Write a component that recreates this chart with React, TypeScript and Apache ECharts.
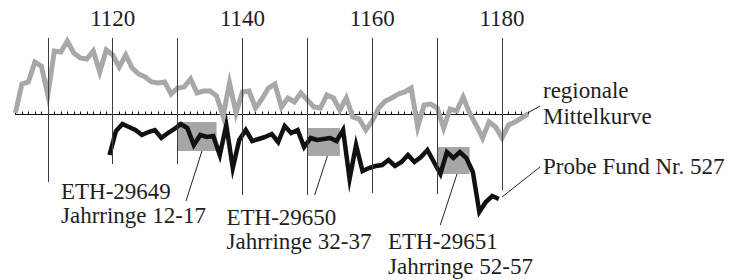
import React, { useEffect, useRef } from "react";
import * as echarts from "echarts";

// Regional mean curve (index, baseline = 0), one value per year from 1105
const meanStartYear = 1105;
const meanValues = [
  1, 30, 32, 52, 48, 19, 63, 62, 73, 61,
  56, 55, 63, 42, 64, 59, 47, 59, 46, 40,
  37, 32, 31, 32, 20, 26, 27, 35, 21, 23,
  23, 18, -2, 31, 1, 22, 23, 6, 15, 26,
  30, 7, 16, 12, 21, 14, 7, 6, 19, 16,
  4, 16, -3, -5, -16, -7, 6, 13, 16, 20,
  22, 26, -13, 9, 10, 6, -14, 5, 3, 17,
  1, -11, -24, -8, -13, -24, -11, -8, -4, 0,
];

// Sample curve "Probe Fund Nr. 527" (plotted below the mean curve), ring centres from 1119.5
const probeStartYear = 1119.5;
const probeValues = [
  -41, -17, -10, -13, -16, -21, -18, -16, -24, -19,
  -15, -10, -14, -31, -21, -23, -22, -41, -11, -54,
  -26, -16, -27, -25, -23, -20, -28, -12, -19, -16,
  -33, -24, -26, -25, -24, -27, -16, -65, -31, -57,
  -54, -52, -51, -46, -52, -48, -41, -48, -43, -36,
  -48, -60, -38, -44, -38, -44, -58, -98, -88, -82,
  -85,
];

// Radiocarbon samples (ring blocks)
const sampleNames = ["ETH-29649", "ETH-29650", "ETH-29651"];
const sampleRings = ["Jahrringe 12-17", "Jahrringe 32-37", "Jahrringe 52-57"];
const sampleFrom = [1130, 1150, 1170];
const sampleTo = [1136, 1155, 1175];
const sampleHigh = [-8, -14, -33];
const sampleLow = [-37, -42, -60];

// Decade guide lines
const decadeYears = [1110, 1120, 1130, 1140, 1150, 1160, 1170, 1180];
const decadeTop = 76;
const decadeBottom = [-68, -50, -50, -81, -81, -79, -80, -76];

const axisMin = 1105;
const axisMax = 1184;

const FONT = '"Liberation Serif", "Times New Roman", serif';
const TXT = "#1e1e1e";

export default function App() {
  const ref = useRef<HTMLDivElement>(null);

  useEffect(() => {
    if (!ref.current) return;
    const chart = echarts.init(ref.current, null, { renderer: "svg" });

    const meanData = meanValues.map((v, i) => [meanStartYear + i, v]);
    const probeData = probeValues.map((v, i) => [probeStartYear + i, v]);

    const text = (t: string, x: number, y: number) => ({
      type: "text",
      x,
      y,
      silent: true,
      style: {
        text: t,
        fontFamily: FONT,
        fontSize: 23,
        fill: TXT,
        textAlign: "left",
        textVerticalAlign: "middle",
        align: "left",
        verticalAlign: "middle",
      },
    });
    const leader = (x1: number, y1: number, x2: number, y2: number) => ({
      type: "line",
      silent: true,
      shape: { x1, y1, x2, y2 },
      style: { stroke: "#222", lineWidth: 1 },
    });

    chart.setOption({
      animation: false,
      backgroundColor: "#ffffff",
      grid: {
        left: 15.4,
        right: 206,
        top: 38,
        bottom: 0,
        containLabel: false,
        outerBoundsMode: "none",
      },
      xAxis: [
        {
          type: "value",
          min: axisMin,
          max: axisMax,
          interval: 1,
          position: "bottom",
          axisLine: { show: true, onZero: true, lineStyle: { color: "#111", width: 1.2 } },
          axisTick: { show: true, inside: true, length: 2.5, lineStyle: { color: "#111", width: 1 } },
          axisLabel: { show: false },
          splitLine: { show: false },
        },
        {
          type: "value",
          min: axisMin,
          max: axisMax,
          interval: 5,
          position: "top",
          axisLine: { show: false },
          axisTick: { show: false },
          splitLine: { show: false },
          axisLabel: {
            show: true,
            interval: 0,
            margin: 8,
            fontFamily: FONT,
            fontSize: 23,
            color: TXT,
            formatter: (v: number) => (v % 20 === 0 ? String(v) : ""),
          },
        },
      ],
      yAxis: {
        type: "value",
        min: -166,
        max: 76,
        show: false,
        splitLine: { show: false },
      },
      series: [
        {
          type: "line",
          name: "guides",
          xAxisIndex: 0,
          data: [],
          z: 1,
          silent: true,
          markLine: {
            silent: true,
            symbol: ["none", "none"],
            label: { show: false },
            lineStyle: { color: "#3c3c3c", width: 1, type: "solid" },
            data: decadeYears.map((yr, i) => [
              { coord: [yr, decadeTop] },
              { coord: [yr, decadeBottom[i]] },
            ]),
          },
          markArea: {
            silent: true,
            itemStyle: { color: "#a6a6a6" },
            label: { show: false },
            data: sampleFrom.map((f, i) => [
              { coord: [f, sampleHigh[i]] },
              { coord: [sampleTo[i], sampleLow[i]] },
            ]),
          },
        },
        {
          type: "line",
          name: "regionale Mittelkurve",
          xAxisIndex: 0,
          data: meanData,
          showSymbol: false,
          symbol: "none",
          z: 2,
          lineStyle: { color: "#a8a8a8", width: 5, join: "miter", miterLimit: 8 },
        },
        {
          type: "line",
          name: "Probe Fund Nr. 527",
          xAxisIndex: 0,
          data: probeData,
          showSymbol: false,
          symbol: "none",
          z: 3,
          lineStyle: { color: "#111111", width: 4.5, join: "miter", miterLimit: 8 },
        },
      ],
      graphic: [
        text("regionale", 543, 90.2),
        text("Mittelkurve", 543, 116.2),
        text("Probe Fund Nr. 527", 543, 166.2),
        text(sampleNames[0], 61, 191.5),
        text(sampleRings[0], 61, 215.7),
        text(sampleNames[1], 226.5, 217.2),
        text(sampleRings[1], 226.5, 241.7),
        text(sampleNames[2], 388, 241.5),
        text(sampleRings[2], 388, 266.2),
        leader(186, 201, 204.5, 143),
        leader(314.7, 195, 328.7, 152),
        leader(440.3, 225, 458.3, 170),
        leader(502, 197, 540, 167),
        leader(526, 114, 540, 106),
      ],
    });

    return () => chart.dispose();
  }, []);

  return (
    <div
      ref={ref}
      style={{ position: "absolute", left: 0, top: 0, width: 734, height: 280, background: "#fff" }}
    />
  );
}
